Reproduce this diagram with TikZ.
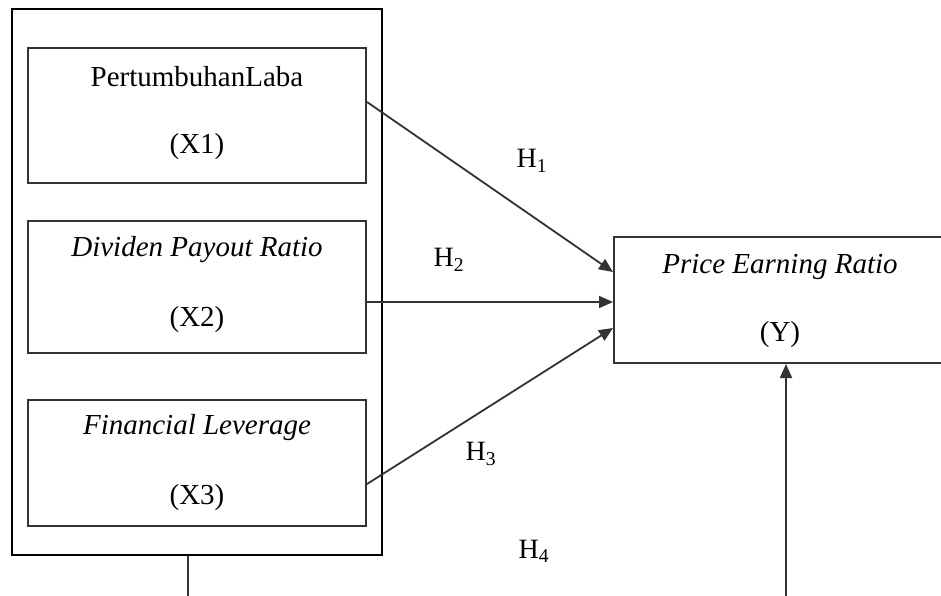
\documentclass[tikz,border=0pt]{standalone}
\usepackage{fontspec}
\setmainfont{Liberation Serif}
\usetikzlibrary{arrows.meta,calc}
\begin{document}
\begin{tikzpicture}[x=1pt,y=-1pt,
  outerbox/.style={draw=black,line width=1.4pt,inner sep=0pt},
  varbox/.style={draw=black!80,line width=2pt,inner sep=0pt},
  lbl/.style={font=\fontsize{29}{34}\selectfont,inner sep=0pt},
  hyp/.style={font=\fontsize{28}{32}\selectfont,inner sep=0pt},
  conn/.style={draw=black!80,line width=1.8pt,-{Triangle[length=14pt,width=12pt]}},
  plain/.style={draw=black!80,line width=1.8pt}]
\useasboundingbox (0,0) rectangle (941,595);
\clip (0,0) rectangle (941,595);
\fill[white] (0,0) rectangle (941,595);
% outer frame
\node[outerbox,minimum width=370pt,minimum height=546pt] (outer) at (197,282) {};
% variable boxes
\node[varbox,minimum width=338pt,minimum height=135pt] (x1) at (197,115.5) {};
\node[varbox,minimum width=338pt,minimum height=132pt] (x2) at (197,287) {};
\node[varbox,minimum width=338pt,minimum height=126pt] (x3) at (197,463) {};
\node[varbox,minimum width=346pt,minimum height=126pt] (y) at (787,300) {};
% texts
\node[lbl] (t1a) at (197,77) {PertumbuhanLaba};
\node[lbl] (t1b) at (197,147) {(X1)};
\node[lbl] (t2a) at (197,250) {\itshape Dividen Payout Ratio};
\node[lbl] (t2b) at (197,320) {(X2)};
\node[lbl] (t3a) at (197,428) {\itshape Financial Leverage};
\node[lbl] (t3b) at (197,498) {(X3)};
\node[lbl] (tya) at (780,267) {\itshape Price Earning Ratio};
\node[lbl] (tyb) at (780,335) {(Y)};
% hypothesis labels
\node[hyp] (h1) at (532,161) {H\textsubscript{1}};
\node[hyp] (h2) at (449,260) {H\textsubscript{2}};
\node[hyp] (h3) at (481,454) {H\textsubscript{3}};
\node[hyp] (h4) at (534,551) {H\textsubscript{4}};
% connectors
\draw[conn] ([yshift=13.5pt]x1.east) -- ([yshift=28pt]y.west);
\draw[conn] ([yshift=-15pt]x2.east) -- ([yshift=-2pt]y.west);
\draw[conn] ([yshift=-21pt]x3.east) -- ([yshift=-28pt]y.west);
\coordinate (lb) at (188,600);
\coordinate (rb) at (786,600);
\draw[plain] (outer.south -| lb) -- (lb);
\draw[conn] (rb) -- (rb |- y.south);
\end{tikzpicture}
\end{document}
